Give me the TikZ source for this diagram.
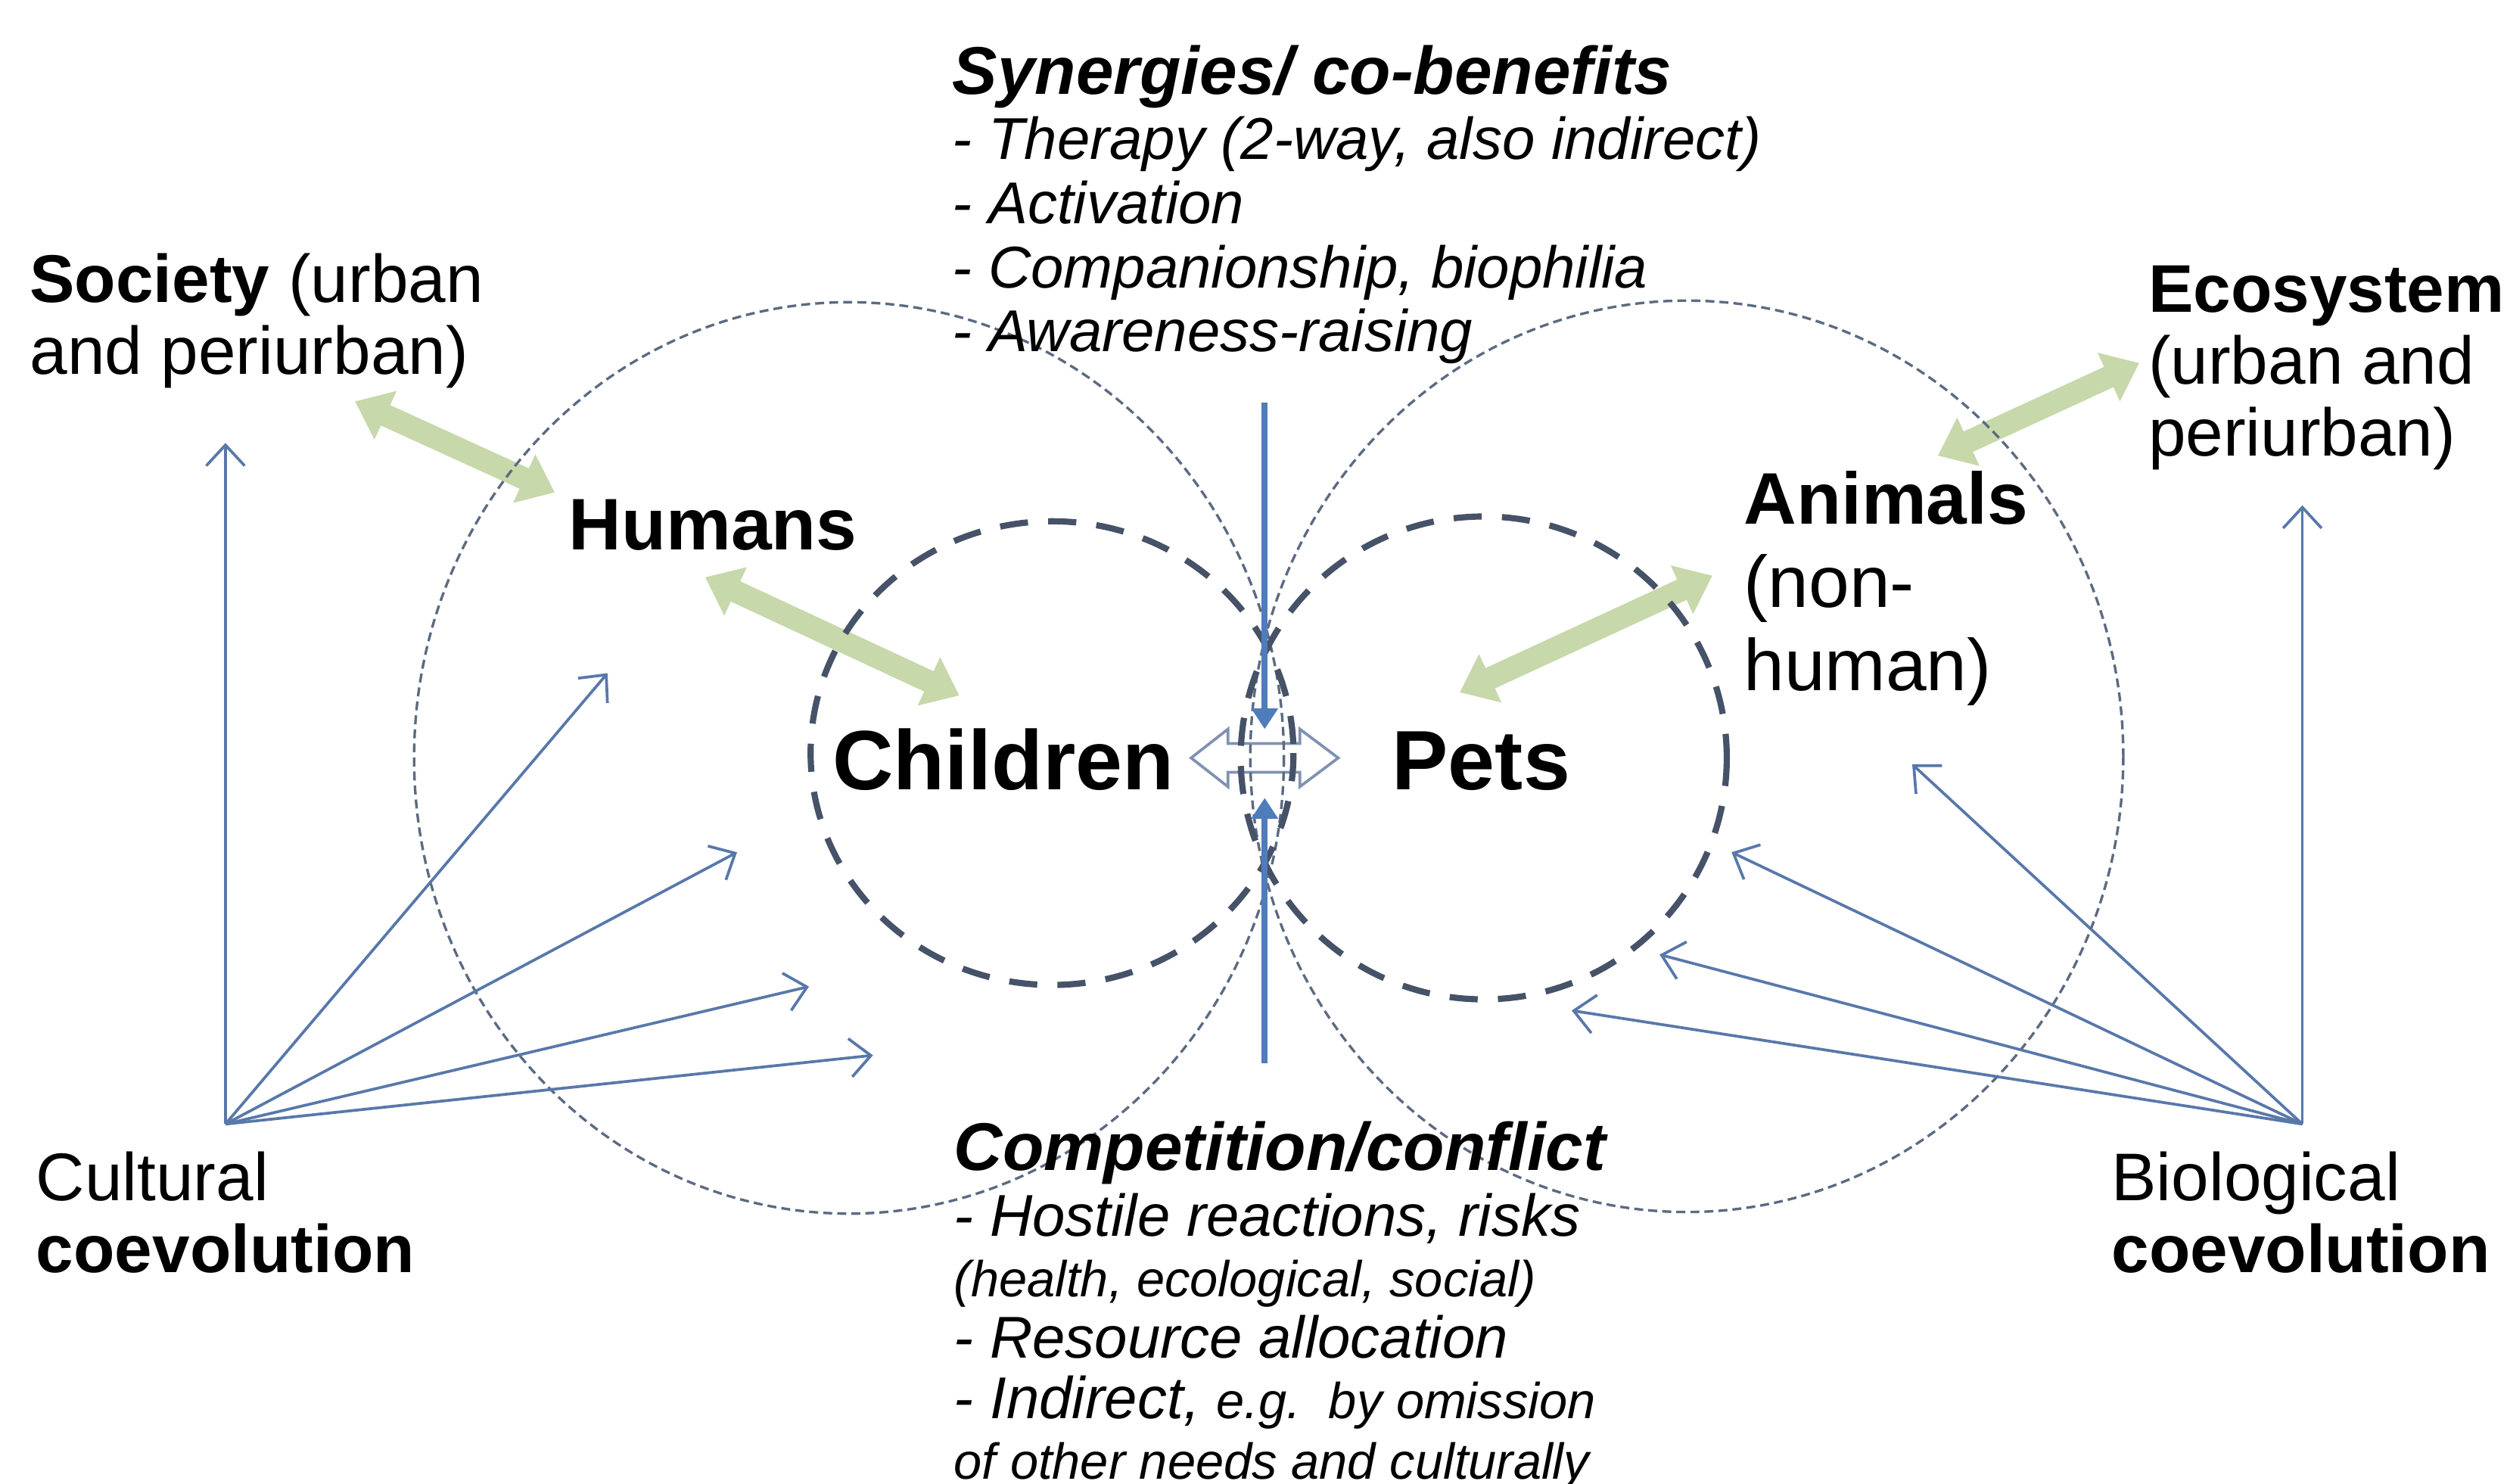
\documentclass[tikz,border=0pt]{standalone}
\usepackage{fontspec}
\setmainfont{Liberation Sans}
\usetikzlibrary{arrows.meta}
\usetikzlibrary{calc}

\definecolor{ringgray}{RGB}{92,106,130}
\definecolor{ringdark}{RGB}{70,82,104}
\definecolor{evoblue}{RGB}{88,120,170}
\definecolor{axisblue}{RGB}{79,124,186}
\definecolor{linkgreen}{RGB}{199,216,170}
\definecolor{gateblue}{RGB}{128,146,178}

\begin{document}
\begin{tikzpicture}[x=0.1mm, y=-0.1mm,
    outerring/.style={ringgray, line width=0.45pt, dash pattern=on 1.6pt off 0.9pt},
    innerring/.style={ringdark, line width=1.1pt, dash pattern=on 5pt off 3.6pt},
    evo/.style={evoblue, line width=0.5pt, -{Straight Barb[length=1.3mm, width=2.4mm]}},
    mutual/.style={linkgreen, line width=1.4mm, {Triangle[length=2.1mm, width=3.2mm]}-{Triangle[length=2.1mm, width=3.2mm]}},
    splitline/.style={axisblue, line width=1.1pt, -{Triangle[length=1.3mm, width=1.6mm]}},
    lbl/.style={anchor=base west, align=left, inner sep=0pt},
    big/.style={lbl, font=\fontsize{12}{12.8}\selectfont},
    core/.style={lbl, font=\fontsize{15}{18}\selectfont\bfseries},
    note/.style={lbl, font=\fontsize{10.5}{11.4}\selectfont\itshape}]

    %% frame
    \path[use as bounding box, fill=white] (0,0) rectangle (1568,928);

    %% centres
    \coordinate (hum) at (531,474);
    \coordinate (ani) at (1055,473);
    \coordinate (chi) at (658,471);
    \coordinate (pet) at (928,474);
    \coordinate (mid) at (791,474);

    %% green two-way arrows
    \coordinate (soc a) at (222,251);
    \coordinate (soc b) at (347,308);
    \coordinate (hc a) at (441,361);
    \coordinate (hc b) at (600,435);
    \coordinate (pa a) at (913,433);
    \coordinate (pa b) at (1071,360);
    \coordinate (ae a) at (1212,285);
    \coordinate (ae b) at (1338,227);
    \draw[mutual] (soc a) -- (soc b);
    \draw[mutual] (hc a) -- (hc b);
    \draw[mutual] (pa a) -- (pa b);
    \draw[mutual] (ae a) -- (ae b);

    %% open arrow between children and pets
    \draw[gateblue, line width=0.5pt, fill=white] ($(mid)+(-46,0)$) -- ++(23,-18) -- ++(0,9)
        -- ++(45,0) -- ++(0,-9) -- ++(24,18) -- ++(-24,18) -- ++(0,-9)
        -- ++(-45,0) -- ++(0,9) -- cycle;

    %% rings
    \draw[outerring] (hum) ellipse [x radius=272, y radius=285];
    \draw[outerring] (ani) ellipse [x radius=273, y radius=285];
    \draw[innerring] (chi) ellipse [x radius=151, y radius=145];
    \draw[innerring] (pet) ellipse [x radius=152, y radius=151];

    %% dividing line
    \coordinate (top) at (791,252);
    \coordinate (bot) at (791,665);
    \draw[splitline] (top) -- ($(mid)+(0,-18)$);
    \draw[splitline] (bot) -- ($(mid)+(0,25)$);

    %% coevolution fans
    \coordinate (cul) at (141,703);
    \coordinate (cul1) at (141,277);
    \coordinate (cul2) at (380,421);
    \coordinate (cul3) at (461,533);
    \coordinate (cul4) at (506,617);
    \coordinate (cul5) at (546,660);
    \coordinate (bio) at (1440,703);
    \coordinate (bio1) at (1440,316);
    \coordinate (bio2) at (1196,478);
    \coordinate (bio3) at (1083,533);
    \coordinate (bio4) at (1038,597);
    \coordinate (bio5) at (983,632);
    \foreach \i in {1,...,5} {
        \draw[evo] (cul) -- (cul\i);
        \draw[evo] (bio) -- (bio\i);
    }

    %% labels (base = last line)
    \node[big] (society) at (18,234) {\textbf{Society} (urban\\and periurban)};
    \node[big] (ecosystem) at (1343,285) {\textbf{Ecosystem}\\(urban and\\periurban)};
    \node[big] (cultural) at (22,796) {Cultural\\\textbf{coevolution}};
    \node[big] (biological) at (1320,796) {Biological\\\textbf{coevolution}};

    \node[lbl, font=\fontsize{13}{15}\selectfont\bfseries] (humans) at (355,344) {Humans};
    \node[lbl, font=\fontsize{13}{14.8}\selectfont] (animals) at (1090,432) {\textbf{Animals}\\(non-\\human)};
    \node[core] (children) at (520,494) {Children};
    \node[core] (pets) at (870,494) {Pets};

    %% synergies and conflicts
    \node[lbl, font=\fontsize{12}{13}\selectfont\bfseries\itshape] (syn) at (595,59) {Synergies/ co-benefits};
    \node[note] (synlist) at (595,220) {- Therapy (2-way, also indirect)\\- Activation\\- Companionship, biophilia\\- Awareness-raising};
    \node[lbl, font=\fontsize{12}{13}\selectfont\bfseries\itshape] (comp) at (596,732) {Competition/conflict};
    \node[note, font=\fontsize{10.5}{10.8}\selectfont\itshape] (complist) at (596,925) {- Hostile reactions, risks\\{\fontsize{9}{10}\selectfont (health, ecological, social)}\\- Resource allocation\\- Indirect, {\fontsize{9}{10}\selectfont e.g.\ \ by omission}\\{\fontsize{9}{10}\selectfont of other needs and culturally}};
\end{tikzpicture}
\end{document}
